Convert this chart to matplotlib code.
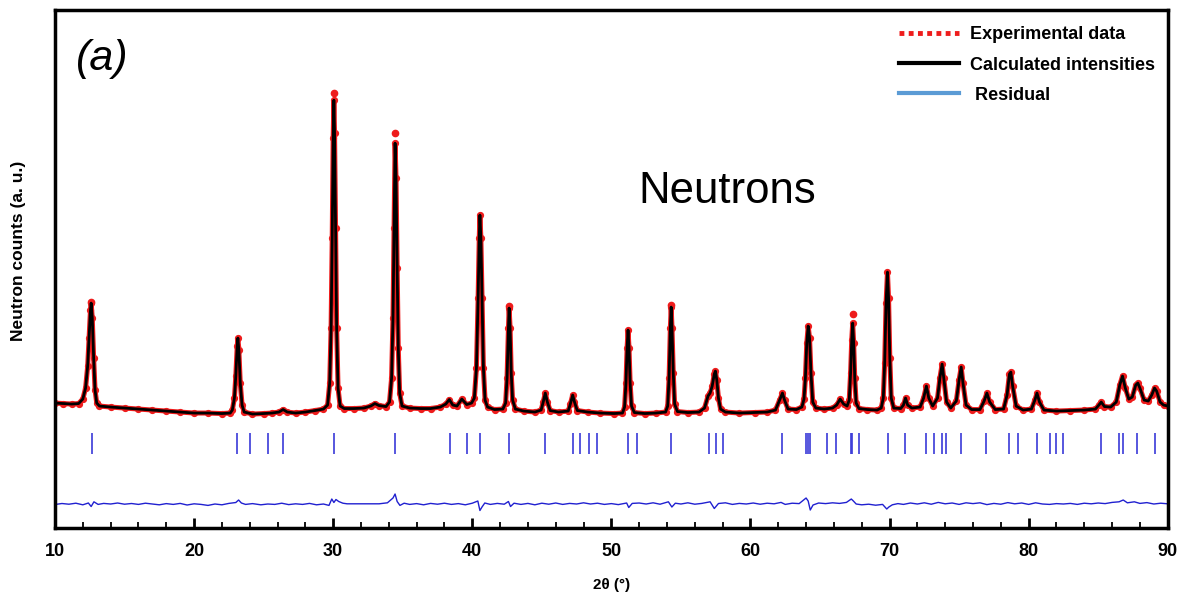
import matplotlib
matplotlib.use("Agg")
import matplotlib.pyplot as plt
from matplotlib.lines import Line2D

plt.rcParams['font.family'] = ['Liberation Sans', 'DejaVu Sans']

# calculated profile, vertices (2theta, counts in a.u.)
two_theta = [
    10.0, 10.6, 11.2, 11.7, 12.0, 12.2, 12.35, 12.45, 12.55, 12.6, 12.68, 12.78, 12.88, 13.0, 13.2,
    14.0, 15.0, 16.0, 17.0, 18.0, 19.0, 20.0, 21.0, 22.0, 22.6,
    22.75, 22.9, 23.0, 23.1, 23.15, 23.22, 23.32, 23.45, 23.6,
    24.2, 25.0, 25.6, 26.1, 26.4, 26.7, 27.3, 28.0, 28.7, 29.3,
    29.6, 29.75, 29.85, 29.93, 30.0, 30.05, 30.1, 30.17, 30.25, 30.35, 30.5, 30.8,
    31.5, 32.2, 32.7, 33.0, 33.3, 33.8,
    34.05, 34.2, 34.3, 34.38, 34.45, 34.52, 34.6, 34.68, 34.78, 34.95,
    35.5, 36.3, 37.0, 37.7, 38.1, 38.35, 38.6, 38.9, 39.25, 39.6, 39.95,
    40.15, 40.3, 40.42, 40.5, 40.55, 40.62, 40.7, 40.8, 40.92, 41.1,
    41.6, 42.2,
    42.4, 42.5, 42.6, 42.65, 42.72, 42.8, 42.9, 43.1,
    43.7, 44.5, 44.95, 45.1, 45.25, 45.4, 45.6, 46.2, 46.9, 47.05, 47.22, 47.35, 47.55,
    48.3, 49.2, 50.2, 50.8,
    50.95, 51.05, 51.13, 51.2, 51.27, 51.35, 51.45, 51.65,
    52.4, 53.2, 53.9,
    54.05, 54.15, 54.24, 54.3, 54.36, 54.45, 54.55, 54.75,
    55.5, 56.3, 56.7, 56.95, 57.1, 57.25, 57.4, 57.48, 57.58, 57.7, 57.85, 58.2,
    59.2, 60.3, 61.2, 61.8, 62.1, 62.3, 62.45, 62.7, 63.3, 63.7,
    63.85, 63.95, 64.05, 64.15, 64.25, 64.35, 64.48, 64.7,
    65.3, 65.9, 66.2, 66.45, 66.7, 66.95,
    67.1, 67.2, 67.28, 67.35, 67.42, 67.5, 67.6, 67.8,
    68.4, 69.1, 69.4,
    69.55, 69.65, 69.75, 69.85, 69.93, 70.02, 70.12, 70.3,
    70.8, 71.0, 71.15, 71.3, 71.6, 72.2, 72.45, 72.65, 72.82, 73.1, 73.45, 73.62, 73.78,
    73.9, 74.1, 74.4, 74.8, 75.0, 75.15, 75.28, 75.5, 75.9, 76.5, 76.8, 77.0, 77.2, 77.6,
    78.2, 78.45, 78.62, 78.72, 78.85, 79.1, 79.6, 80.2, 80.45, 80.6, 80.78, 81.1,
    82.0, 83.0, 84.0, 84.8, 85.05, 85.22, 85.45, 85.9, 86.3, 86.55, 86.75, 86.95,
    87.2, 87.45, 87.7, 87.85, 88.0, 88.3, 88.6, 88.85, 89.05, 89.2, 89.45, 89.7, 90.0,
]
calc_counts = [
    1250, 1245, 1240, 1245, 1290, 1400, 1620, 1900, 2180, 2250, 2100, 1700, 1380, 1250, 1220,
    1210, 1200, 1190, 1180, 1170, 1160, 1150, 1150, 1145, 1150,
    1180, 1300, 1520, 1820, 1900, 1780, 1450, 1230, 1160,
    1140, 1145, 1150, 1160, 1185, 1160, 1150, 1160, 1175, 1190,
    1230, 1450, 2000, 2900, 3900, 4280, 3950, 3000, 2000, 1400, 1220, 1195,
    1195, 1200, 1220, 1245, 1225, 1215,
    1260, 1500, 2100, 3000, 3850, 3500, 2600, 1800, 1350, 1220,
    1200, 1195, 1195, 1210, 1240, 1285, 1230, 1220, 1290, 1235, 1250,
    1300, 1600, 2300, 2900, 3130, 2900, 2300, 1600, 1280, 1210,
    1185, 1190,
    1250, 1500, 2000, 2200, 2000, 1550, 1280, 1190,
    1170, 1160, 1180, 1260, 1350, 1260, 1175, 1160, 1170, 1240, 1330, 1260, 1175,
    1160, 1150, 1145, 1150,
    1210, 1450, 1800, 1980, 1800, 1450, 1220, 1155,
    1145, 1150, 1160,
    1220, 1500, 2000, 2210, 2000, 1550, 1240, 1165,
    1155, 1160, 1200, 1320, 1350, 1420, 1540, 1570, 1480, 1300, 1190, 1160,
    1150, 1155, 1160, 1180, 1280, 1350, 1280, 1190, 1185, 1210,
    1290, 1500, 1850, 2020, 1900, 1550, 1260, 1200,
    1190, 1200, 1230, 1290, 1240, 1220,
    1280, 1550, 1880, 2050, 1850, 1500, 1250, 1195,
    1185, 1180, 1200,
    1300, 1650, 2250, 2560, 2300, 1700, 1300, 1200,
    1195, 1230, 1300, 1230, 1200, 1210, 1300, 1420, 1300, 1220, 1300, 1500, 1640,
    1500, 1260, 1200, 1270, 1480, 1610, 1450, 1230, 1185, 1185, 1270, 1350, 1260, 1185,
    1190, 1330, 1540, 1560, 1420, 1220, 1180, 1190, 1280, 1350, 1260, 1180,
    1170, 1175, 1180, 1190, 1230, 1260, 1215, 1210, 1260, 1430, 1520, 1400,
    1290, 1310, 1430, 1450, 1400, 1280, 1270, 1330, 1400, 1370, 1260, 1230, 1220,
]

# observed peak tops that sit above the calculated curve
obs_top_tth = [30.05, 34.45, 54.3, 67.35, 42.65, 12.6]
obs_top_counts = [4350, 3950, 2230, 2140, 2220, 2260]

# Bragg reflection positions
reflections = [
    12.65, 23.08, 24.02, 25.28, 26.39, 30.06, 34.44, 38.40, 39.62, 40.55,
    42.61, 45.20, 47.23, 47.73, 48.42, 48.96, 51.18, 51.87, 54.26, 57.02,
    57.51, 58.00, 62.26, 63.98, 64.11, 64.25, 65.49, 66.18, 67.23, 67.33,
    67.83, 69.89, 71.13, 72.64, 73.19, 73.75, 74.07, 75.12, 76.96, 78.61,
    79.25, 80.62, 81.53, 82.00, 82.49, 85.21, 86.53, 86.76, 87.77, 89.07,
]

# difference curve (obs - calc), shifted down
res_tth = [
    10.0, 10.5, 11.0, 11.5, 12.0, 12.4, 12.6, 12.8, 13.1, 13.5, 14.0, 14.5, 15.0, 15.5,
    16.0, 16.5, 17.0, 17.5, 18.0, 18.5, 19.0, 19.5, 20.0, 20.5, 21.0, 21.5, 22.0, 22.5,
    23.0, 23.2, 23.4, 23.7, 24.2, 24.8, 25.3, 25.8, 26.3, 26.8, 27.3, 27.8, 28.3, 28.8,
    29.3, 29.7, 29.9, 30.05, 30.2, 30.4, 30.7, 31.0, 33.3, 33.9, 34.3, 34.45, 34.6, 34.8,
    35.1, 35.5, 36.0, 36.5, 37.0, 37.5, 38.0, 38.5, 39.0, 39.5, 40.0, 40.4, 40.55, 40.7,
    40.9, 41.3, 41.8, 42.3, 42.6, 42.75, 43.0, 43.5, 44.0, 44.5, 45.0, 45.5, 46.0, 46.5,
    47.0, 47.5, 48.0, 48.5, 49.0, 49.5, 50.0, 50.5, 51.1, 51.25, 51.5, 52.0, 52.5, 53.0,
    53.5, 54.1, 54.35, 54.6, 55.0, 55.5, 56.0, 56.5, 57.1, 57.4, 57.7, 58.2, 58.7, 59.2,
    59.7, 60.2, 60.7, 61.2, 61.7, 62.2, 62.5, 63.0, 63.5, 64.0, 64.15, 64.3, 64.5, 64.9,
    65.4, 65.9, 66.4, 66.9, 67.25, 67.4, 67.6, 68.0, 68.5, 69.0, 69.5, 69.8, 69.95, 70.2,
    70.6, 71.0, 71.5, 72.0, 72.5, 73.0, 73.5, 74.0, 74.5, 75.0, 75.5, 76.0, 76.5, 77.0,
    77.5, 78.0, 78.5, 79.0, 79.5, 80.0, 80.5, 81.0, 81.5, 82.0, 82.5, 83.0, 83.5, 84.0,
    84.5, 85.0, 85.5, 86.0, 86.5, 86.8, 87.1, 87.6, 88.0, 88.5, 89.0, 89.5, 90.0,
]
res_counts = [
    235, 245, 238, 248, 232, 250, 215, 262, 236, 246, 240, 250, 238, 245,
    236, 248, 240, 232, 244, 236, 246, 230, 242, 236, 226, 240, 232, 246,
    255, 280, 250, 236, 244, 232, 240, 236, 248, 234, 242, 236, 246, 232,
    240, 226, 290, 255, 285, 265, 248, 242, 242, 252, 300, 340, 265, 226,
    248, 236, 244, 232, 246, 238, 248, 236, 244, 232, 248, 270, 175, 210,
    250, 236, 246, 238, 265, 215, 248, 236, 246, 232, 248, 238, 250, 236,
    246, 240, 252, 240, 248, 236, 244, 234, 250, 205, 246, 250, 240, 252,
    238, 262, 210, 248, 240, 252, 238, 246, 262, 195, 245, 252, 236, 246,
    240, 250, 238, 248, 242, 256, 236, 248, 244, 300, 270, 180, 230, 250,
    244, 252, 246, 256, 290, 270, 240, 232, 238, 228, 236, 190, 210, 232,
    244, 236, 250, 240, 252, 238, 256, 242, 250, 236, 252, 244, 252, 234,
    246, 238, 254, 242, 250, 236, 252, 240, 236, 244, 240, 246, 236, 248,
    242, 250, 244, 256, 262, 280, 252, 262, 246, 254, 240, 248, 242,
]

fig = plt.figure(figsize=(11.8, 6), dpi=100)
ax = fig.add_axes([0.0466, 0.12, 0.943, 0.863])

red = '#ee1c1c'
ax.plot(two_theta, calc_counts, color=red, lw=3.6, zorder=2)
ax.plot(two_theta, calc_counts, 'o', color=red, ms=4.2, zorder=2)
ax.plot(obs_top_tth, obs_top_counts, 'o', color=red, ms=4.5, zorder=2)
ax.plot(two_theta, calc_counts, color='black', lw=2.0, zorder=3)
ax.vlines(reflections, 740, 950, color='#3a3ad8', lw=1.2)
ax.plot(res_tth, res_counts, color='#2020d0', lw=1.0)

ax.set_xlim(10, 90)
ax.set_ylim(0, 5180)
ax.set_xticks(range(10, 91, 10))
ax.set_xticks(range(12, 90, 2), minor=True)
ax.set_yticks([])
ax.tick_params(axis='x', which='major', direction='in', length=7, width=2,
               pad=11, labelsize=13)
ax.tick_params(axis='x', which='minor', direction='in', length=4, width=1.3)
for lab in ax.get_xticklabels():
    lab.set_fontweight('bold')
for sp in ax.spines.values():
    sp.set_linewidth(2.5)

ax.set_xlabel('2θ (°)', fontsize=11, fontweight='bold', labelpad=13)
ax.set_ylabel('Neutron counts (a. u.)', fontsize=12.5, fontweight='bold')
ax.yaxis.set_label_coords(-0.026, 0.535)

ax.text(0.019, 0.905, '(a)', transform=ax.transAxes, fontsize=31,
        fontstyle='italic', va='center')
ax.text(0.604, 0.65, 'Neutrons', transform=ax.transAxes, fontsize=31.5,
        ha='center', va='center')

handles = [
    Line2D([], [], color=red, lw=3.5, ls=(0, (1, 0.9))),
    Line2D([], [], color='black', lw=3),
    Line2D([], [], color='#5b9bd5', lw=3),
]
labels = ['Experimental data', 'Calculated intensities', ' Residual']
ax.legend(handles, labels, loc='upper left', bbox_to_anchor=(0.744, 1.0),
          frameon=False, handlelength=3.3, handletextpad=0.6, labelspacing=0.73,
          prop={'weight': 'bold', 'size': 13})

fig.savefig('out.png', dpi=100)
